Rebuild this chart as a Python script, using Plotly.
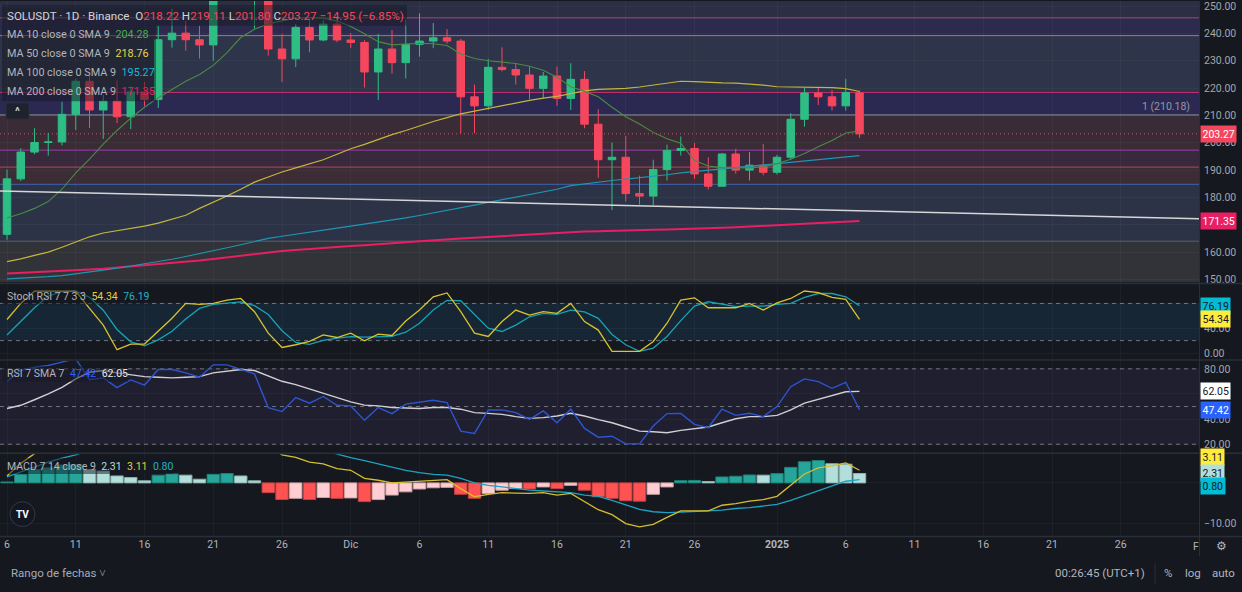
import plotly.graph_objects as go
import pandas as pd

# ---------------- data ----------------
dates = pd.date_range("2024-11-06", periods=63, freq="D")

o = [166.5, 186.8, 196.6, 200.1, 200.3, 210.4, 222.5, 212.0, 215.2, 209.5,
     218.6, 215.8, 237.7, 240.1, 237.7, 235.8, 256.0, 257.0, 255.0, 256.5,
     234.3, 230.7, 242.2, 237.6, 243.4, 237.6, 236.7, 225.9, 234.3, 229.3,
     236.0, 237.2, 238.4, 237.2, 216.8, 213.5, 227.6, 226.8, 224.8, 219.9,
     224.4, 216.2, 223.2, 206.8, 193.8, 194.7, 181.4, 180.5, 190.2, 197.2,
     197.9, 188.6, 184.1, 195.9, 190.0, 191.8, 189.2, 194.7, 208.6, 218.2,
     216.8, 213.5, 218.22]
h = [190.2, 198.0, 205.3, 203.6, 215.0, 223.5, 224.5, 217.5, 222.8, 220.5,
     222.3, 242.8, 249.0, 244.6, 242.8, 260.0, 264.0, 264.6, 259.5, 261.0,
     239.8, 243.5, 245.2, 244.8, 245.8, 240.1, 237.5, 239.8, 241.2, 245.0,
     247.4, 243.8, 241.6, 238.0, 221.3, 230.7, 234.9, 228.9, 227.9, 225.9,
     227.9, 229.1, 226.2, 212.3, 200.1, 202.5, 188.0, 193.8, 199.3, 202.3,
     199.9, 194.7, 196.3, 197.8, 196.6, 199.6, 195.6, 210.8, 220.2, 220.1,
     219.2, 223.4, 219.11]
l = [164.5, 186.0, 195.8, 195.3, 199.0, 204.7, 205.4, 201.4, 207.2, 205.0,
     213.4, 212.7, 234.8, 233.7, 230.8, 230.0, 253.0, 253.5, 241.7, 231.9,
     222.2, 227.7, 233.1, 237.1, 236.8, 234.6, 220.2, 215.6, 225.3, 223.5,
     231.5, 234.6, 236.2, 203.5, 203.5, 212.0, 226.1, 221.3, 215.9, 216.2,
     213.5, 212.0, 205.3, 187.2, 175.4, 178.5, 177.4, 177.1, 186.2, 195.3,
     186.8, 182.9, 184.0, 188.7, 186.2, 188.1, 188.4, 193.8, 205.9, 213.8,
     211.8, 211.8, 201.80]
c = [186.8, 196.6, 200.1, 200.3, 210.4, 222.5, 212.0, 215.2, 209.5, 218.6,
     215.8, 237.7, 240.1, 237.7, 235.8, 256.0, 257.0, 255.0, 256.5, 234.3,
     230.7, 242.2, 237.6, 243.4, 237.6, 236.7, 225.9, 234.3, 229.3, 236.0,
     237.2, 238.4, 237.2, 216.8, 213.5, 227.6, 226.8, 224.8, 219.9, 224.4,
     216.2, 223.2, 206.8, 193.8, 194.7, 181.4, 180.5, 190.2, 197.2, 197.9,
     188.6, 184.1, 195.9, 190.0, 191.8, 189.2, 194.7, 208.6, 218.2, 216.8,
     213.5, 218.4, 203.27]

ma10 = [172.5, 174, 176, 178.5, 183, 189, 194, 199.5, 204.5, 209,
        213, 216.5, 219.5, 222.5, 225, 228.3, 233, 238.5, 241.5, 243.5,
        244.6, 245.6, 245.8, 245.5, 244.6, 242.5, 239.9, 237, 235.8, 236,
        236.4, 236.2, 235.6, 232.5, 230.8, 230, 229.6, 229, 228, 226.5,
        224, 220.5, 218.8, 216.8, 213, 209.5, 206.9, 203.8, 201.5, 199.8,
        193.5, 191.5, 190.9, 190.8, 190.8, 191.2, 192.3, 194, 196.1, 198.5,
        200.8, 203.6, 204.28]
ma50 = [156.5, 157.5, 158.8, 160, 161.8, 163.6, 165.6, 167, 167.8, 168.6,
        169.5, 170.6, 172, 173.5, 176, 178.2, 180.5, 183, 185.6, 187.5,
        189.3, 190.8, 192.2, 193.8, 195.8, 197.8, 199.4, 201.2, 203, 204.5,
        206.2, 207.8, 209.2, 210.6, 211.6, 212.6, 213.5, 214.6, 215.5, 216.3,
        217, 218, 219, 219.5, 219.7, 219.9, 220.4, 221.1, 221.9, 222.5,
        222.4, 222.1, 221.9, 221.8, 221.5, 221.1, 220.5, 220.4, 220.3, 220.2,
        220.2, 219.8, 218.76]
ma100 = [150.2, 150.4, 150.7, 151, 151.4, 152, 152.7, 153.4, 154.1, 154.9,
         155.7, 156.5, 157.4, 158.4, 159.4, 160.5, 161.6, 162.7, 163.9, 165,
         165.8, 166.6, 167.4, 168.1, 168.8, 169.5, 170.2, 171, 171.6, 172.5,
         173.4, 174.3, 175.2, 176.1, 177.2, 178.2, 179.2, 180.2, 181.2, 182.2,
         183, 184.3, 185, 185.7, 186.2, 186.7, 187.2, 187.7, 188.3, 189,
         189.5, 189.9, 190.3, 190.8, 191.3, 191.8, 192.3, 192.9, 193.5, 194,
         194.5, 194.9, 195.27]
ma200 = [152.2, 152.4, 152.6, 152.8, 153.1, 153.3, 153.6, 153.9, 154.3, 154.7,
         155.1, 155.5, 155.9, 156.4, 156.9, 157.5, 158.1, 158.7, 159.3, 159.9,
         160.4, 160.8, 161.2, 161.6, 161.9, 162.2, 162.5, 162.8, 163.2, 163.6,
         164, 164.4, 164.7, 165, 165.3, 165.6, 165.9, 166.2, 166.5, 166.8,
         167.1, 167.3, 167.5, 167.6, 167.8, 167.9, 168, 168.2, 168.3, 168.4,
         168.6, 168.7, 168.9, 169.1, 169.3, 169.5, 169.8, 170.1, 170.4, 170.7,
         171, 171.2, 171.35]

stoch_k = [54, 80, 100, 100, 100, 100, 72, 45, 5.3, 14.4,
           14.4, 35, 56, 80, 78.4, 80, 85.3, 88, 66.7, 32,
           9, 13.3, 18.7, 29.3, 25, 32, 19.7, 30.4, 28.3, 51.7,
           69.3, 90.7, 97, 66.7, 32, 26.7, 50.7, 69.3, 61.3, 66.7,
           64, 80, 50.7, 37, 2.7, 2.7, 2.7, 18.7, 48, 85.3,
           89, 73, 73, 73, 80, 69.3, 81, 88, 100, 97.6,
           89.6, 86.4, 54.34]
stoch_d = [29, 51, 73, 92, 99, 100, 90, 69, 38, 18,
           11.7, 21.3, 35, 55, 72, 78.5, 81, 82.5, 76.5, 62,
           36, 17, 14, 20.5, 24, 26.5, 25.6, 26.5, 26.7, 33.5,
           48, 69.3, 85, 84.3, 61.3, 40, 34.7, 45, 58.5, 64,
           62.4, 69.3, 66.5, 56, 30, 13.3, 2.7, 8, 26.7, 52.3,
           75.7, 82.7, 79, 74.7, 75.7, 75.7, 78.4, 80, 89.6, 96,
           96, 90.7, 76.19]

rsi = [70, 78.7, 81.3, 82.7, 85.4, 88, 71.4, 72.8, 65, 71.2,
       67.1, 79.5, 79.5, 76.8, 73.3, 83.2, 83.2, 79.5, 76, 49.2,
       46, 57.2, 52.7, 58, 51, 50.5, 39, 49.2, 44.4, 51.9,
       53.2, 55, 53.2, 30.4, 28.6, 47.3, 47.3, 45.2, 39.8, 46.5,
       37.1, 47.9, 32.6, 25.6, 26.4, 20.3, 20.3, 34.5, 44.4, 44.6,
       35.8, 33.1, 47.9, 43, 44.6, 42, 50, 65.8, 72, 69.8,
       64.5, 69.3, 47.42]
rsi_sma = [48.4, 51, 55.4, 60, 65.3, 72, 77.3, 78.7, 76.8, 75.2,
           73.8, 73.3, 72.8, 73.3, 73.8, 76.8, 77.9, 79.5, 78.7, 74.6,
           70.1, 67.4, 63.9, 60.4, 56.7, 53.7, 51.1, 50.5, 49.2, 48.7,
           48.4, 49.2, 49.2, 47.9, 45.2, 44.6, 43.8, 42, 40.6, 41.2,
           42.5, 44.6, 42.5, 39.6, 37.1, 33.7, 30.4, 29.9, 29.1, 31,
           32.3, 33.7, 37.1, 40.3, 42, 42, 43, 47.3, 52.7, 55.9,
           58.6, 61.8, 62.05]

macd_hist = [0.24, 2.1, 3.3, 3.7, 4.4, 4.5, 3.3, 2.9, 1.7, 1.3,
             0.5, 1.9, 2.2, 1.9, 0.9, 2.1, 2.3, 1.7, 0.5, -2.4,
             -4.1, -3.8, -4.1, -3.6, -3.8, -3.7, -4.6, -4.1, -3.0, -2.2,
             -1.5, -1.2, -1.1, -2.8, -3.8, -2.6, -1.8, -1.4, -1.5, -1.0,
             -1.4, -0.6, -1.8, -3.4, -3.8, -4.4, -4.5, -2.8, -1.0, 0.55,
             0.6, 0.33, 1.46, 1.63, 1.95, 1.9, 2.28, 3.82, 5.2, 5.5,
             4.7, 4.6, 2.31]
macd_line = [1.7, 4.8, 7.2, 8.8, 10.5, 11.4, 11.3, 11.6, 11.0, 11.0,
             10.3, 12.1, 12.9, 13.1, 12.3, 13.9, 14.5, 14.2, 13.1, 9.6,
             6.9, 6.3, 5.1, 4.7, 3.5, 3.1, 1.1, 0.65, 0.0, 0.24,
             0.5, 0.65, 0.8, -1.4, -3.4, -2.8, -2.4, -2.5, -2.6, -2.4,
             -3.0, -2.6, -4.6, -6.6, -7.8, -10.0, -10.8, -10.2, -8.5, -6.9,
             -6.9, -6.9, -5.5, -5.1, -4.5, -4.1, -3.3, -0.6, 2.2, 3.7,
             4.2, 4.9, 3.11]
macd_signal = [1.5, 2.7, 3.9, 5.1, 6.1, 6.9, 8.0, 8.7, 9.3, 9.7,
               9.8, 10.2, 10.7, 11.2, 11.4, 11.8, 12.2, 12.5, 12.6, 12.0,
               11.0, 10.2, 9.2, 8.3, 7.1, 6.2, 5.5, 4.7, 3.9, 3.1,
               2.5, 2.1, 1.9, 1.1, 0.0, -0.6, -1.0, -1.4, -1.8, -2.0,
               -2.2, -2.4, -3.0, -3.3, -4.3, -5.4, -6.5, -7.1, -7.3, -7.2,
               -7.1, -6.9, -6.7, -6.3, -6.1, -5.7, -5.3, -4.3, -3.1, -1.9,
               -0.65, 0.4, 0.80]

fib_levels = [245.7, 239.2, 218.4, 210.18, 197.3, 191.1, 184.8, 164.0]
trend_dates = ["2024-11-05 11:47", "2025-01-31 16:33"]
trend_vals = [182.4, 172.2]

price_ticks = [150, 160, 170, 180, 190, 200, 210, 220, 230, 240, 250]
price_tick_text = ["150.00", "160.00", "", "180.00", "190.00", "200.00", "210.00",
                   "220.00", "230.00", "240.00", "250.00"]
stoch_ticks = [0, 40, 80]
stoch_tick_text = ["0.00", "40.00", ""]
rsi_ticks = [20, 40, 60, 80]
rsi_tick_text = ["20.00", "40.00", "", "80.00"]
macd_ticks = [-10, 0]
macd_tick_text = ["−10.00", ""]
x_tick_dates = ["2024-11-06", "2024-11-11", "2024-11-16", "2024-11-21", "2024-11-26",
                "2024-12-01", "2024-12-06", "2024-12-11", "2024-12-16", "2024-12-21",
                "2024-12-26", "2025-01-01", "2025-01-06", "2025-01-11", "2025-01-16",
                "2025-01-21", "2025-01-26"]
x_tick_text = ["6", "11", "16", "21", "26", "Dic", "6", "11", "16", "21", "26",
               "<b>2025</b>", "6", "11", "16", "21", "26"]

# ---------------- styling / geometry ----------------
W, H = 1242, 592
XR = 1199
BG = "#15181f"
FONT = "Roboto"
UP, DOWN = "#2ebd85", "#f6465d"
fib_line_colors = ["#a64a6c", "#a3805c", "#c2306f", "#8c8f98", "#9c3faa", "#b04a55", "#3f63b0", "#5d6068"]
band_colors = ["#2a2f45", "#2c2b4e", "#2e3449", "#2b2952", "#3a2c37", "#38293d", "#3b2c36", "#2c3347", "#313338"]
P_RANGE = [148.85, 251.86]
S_RANGE = [-9.6, 110.4]
R_RANGE = [13.7, 86.3]
M_RANGE = [-13.17, 7.07]
X_RANGE = ["2024-11-05 11:47", "2025-01-31 16:33"]


def fx(px):
    return px / W


def fy(py):
    return 1 - py / H


fig = go.Figure()

fig.add_trace(go.Candlestick(
    x=dates, open=o, high=h, low=l, close=c, xaxis="x", yaxis="y",
    increasing=dict(line=dict(color=UP, width=1), fillcolor=UP),
    decreasing=dict(line=dict(color=DOWN, width=1), fillcolor=DOWN),
    whiskerwidth=0, showlegend=False, hoverinfo="skip"))

for vals, col, wd in [(ma200, "#e91e63", 2.0), (ma100, "#1e96b4", 1.2),
                      (ma50, "#c4b63c", 1.2), (ma10, "#4b8a45", 1.1)]:
    fig.add_trace(go.Scatter(x=dates, y=vals, mode="lines", line=dict(color=col, width=wd),
                             xaxis="x", yaxis="y", showlegend=False, hoverinfo="skip"))

fig.add_trace(go.Scatter(x=pd.to_datetime(trend_dates), y=trend_vals, mode="lines",
                         line=dict(color="#d6d6d6", width=1.5), xaxis="x", yaxis="y",
                         showlegend=False, hoverinfo="skip"))

fig.add_trace(go.Scatter(x=dates, y=stoch_d, mode="lines", line=dict(color="#17a2b5", width=1.3),
                         xaxis="x2", yaxis="y2", showlegend=False, hoverinfo="skip"))
fig.add_trace(go.Scatter(x=dates, y=stoch_k, mode="lines", line=dict(color="#d9c22e", width=1.3),
                         xaxis="x2", yaxis="y2", showlegend=False, hoverinfo="skip"))

fig.add_trace(go.Scatter(x=dates, y=rsi_sma, mode="lines", line=dict(color="#cfcfd4", width=1.4),
                         xaxis="x3", yaxis="y3", showlegend=False, hoverinfo="skip"))
fig.add_trace(go.Scatter(x=dates, y=rsi, mode="lines", line=dict(color="#2d55d2", width=1.4),
                         xaxis="x3", yaxis="y3", showlegend=False, hoverinfo="skip"))

hist_colors, hist_edges = [], []
for i, v in enumerate(macd_hist):
    prev = macd_hist[i - 1] if i > 0 else 0
    if v >= 0:
        col, edge = ("#26a69a", "#1d7f75") if v >= prev else ("#b2dfdb", "#8fb3b0")
    else:
        col, edge = ("#ffcdd2", "#c9a3a7") if v > prev else ("#ff5252", "#c44242")
    hist_colors.append(col)
    hist_edges.append(edge)
fig.add_trace(go.Bar(x=dates, y=macd_hist, marker=dict(color=hist_colors, line=dict(color=hist_edges, width=1)),
                     width=0.9 * 86400000, xaxis="x4", yaxis="y4", showlegend=False, hoverinfo="skip"))
fig.add_trace(go.Scatter(x=dates, y=macd_signal, mode="lines", line=dict(color="#1ba3c2", width=1.3),
                         xaxis="x4", yaxis="y4", showlegend=False, hoverinfo="skip"))
fig.add_trace(go.Scatter(x=dates, y=macd_line, mode="lines", line=dict(color="#d4bd2e", width=1.3),
                         xaxis="x4", yaxis="y4", showlegend=False, hoverinfo="skip"))

shapes = []
edges = [P_RANGE[1]] + fib_levels + [P_RANGE[0]]
for i, col in enumerate(band_colors):
    shapes.append(dict(type="rect", xref="paper", x0=0, x1=fx(XR), yref="y", y0=edges[i + 1], y1=edges[i],
                       fillcolor=col, line=dict(width=0), layer="below"))
for lv, col in zip(fib_levels, fib_line_colors):
    shapes.append(dict(type="line", xref="paper", x0=0, x1=fx(XR), yref="y", y0=lv, y1=lv,
                       line=dict(color=col, width=1), layer="between"))
shapes.append(dict(type="line", xref="paper", x0=0, x1=fx(XR), yref="y", y0=c[-1], y1=c[-1],
                   line=dict(color=DOWN, width=1, dash="1px,3px"), layer="between"))
shapes.append(dict(type="rect", xref="paper", x0=0, x1=fx(XR), yref="y2", y0=20, y1=80,
                   fillcolor="#172634", line=dict(width=0), layer="below"))
for lv in [80, 20]:
    shapes.append(dict(type="line", xref="paper", x0=0, x1=fx(XR), yref="y2", y0=lv, y1=lv,
                       line=dict(color="#6f727c", width=1, dash="4px,4px"), layer="between"))
shapes.append(dict(type="rect", xref="paper", x0=0, x1=fx(XR), yref="y3", y0=20, y1=80,
                   fillcolor="#201f30", line=dict(width=0), layer="below"))
for lv in [80, 50, 20]:
    shapes.append(dict(type="line", xref="paper", x0=0, x1=fx(XR), yref="y3", y0=lv, y1=lv,
                       line=dict(color="#6f727c", width=1, dash="4px,4px"), layer="between"))
for py in [285, 362, 456, 540]:
    shapes.append(dict(type="line", xref="paper", x0=0, x1=1, yref="paper", y0=fy(py), y1=fy(py),
                       line=dict(color="#2a2e39", width=1.5), layer="above"))
shapes.append(dict(type="line", xref="paper", x0=fx(XR + 0.5), x1=fx(XR + 0.5), yref="paper", y0=fy(560), y1=1,
                   line=dict(color="#2a2e39", width=1), layer="above"))
shapes.append(dict(type="line", xref="paper", x0=fx(1155), x1=fx(1155), yref="paper", y0=fy(588), y1=fy(567),
                   line=dict(color="#2a2e39", width=1), layer="above"))
for (x0, y0, x1, y1) in [(2, 4, 407, 25), (2, 25, 156, 101), (2, 290, 150, 306), (2, 368, 128, 384), (2, 461, 173, 477)]:
    shapes.append(dict(type="rect", xref="paper", yref="paper", x0=fx(x0), x1=fx(x1), y0=fy(y1), y1=fy(y0),
                       fillcolor="rgba(21,24,33,0.5)", line=dict(width=0), layer="above"))
shapes.append(dict(type="rect", xref="paper", yref="paper", x0=fx(6), x1=fx(29), y0=fy(119), y1=fy(103),
                   fillcolor="#1e222d", line=dict(color="#2a2e39", width=1), layer="above"))
shapes.append(dict(type="circle", xref="paper", yref="paper", x0=fx(10), x1=fx(35), y0=fy(530), y1=fy(505),
                   fillcolor="#131722", line=dict(color="#363a45", width=1), layer="above"))

ann = []
GRAY = "#b2b5be"


def txt(px, py, s, size=11, color=GRAY, anchor="left"):
    ann.append(dict(xref="paper", yref="paper", x=fx(px), y=fy(py), text=s, showarrow=False,
                    xanchor=anchor, yanchor="middle", font=dict(family=FONT, size=size, color=color)))


def span(s, col):
    return f'<span style="color:{col}">{s}</span>'


red = DOWN
title = (span("SOLUSDT · 1D · Binance", "#d1d4dc") + "\u2002" +
         span("O", "#d1d4dc") + span("218.22", red) + " " + span("H", "#d1d4dc") + span("219.11", red) + " " +
         span("L", "#d1d4dc") + span("201.80", red) + " " + span("C", "#d1d4dc") + span("203.27", red) + " " +
         span("−14.95 (−6.85%)", red))
txt(5, 15, title, size=11.6)
for py, lab, val, col in [(34, "MA 10 close 0 SMA 9", ma10[-1], "#4caf50"),
                          (53, "MA 50 close 0 SMA 9", ma50[-1], "#e6d84a"),
                          (72, "MA 100 close 0 SMA 9", ma100[-1], "#22b5d5"),
                          (91, "MA 200 close 0 SMA 9", ma200[-1], "#e91e63")]:
    txt(5, py, span(lab, GRAY) + "\u2002" + span(f"{val:.2f}", col), size=10.8)
txt(5, 298, span("Stoch RSI 7 7 3 3", GRAY) + "\u2002" + span(f"{stoch_k[-1]:.2f}", "#e6cf34") + "\u2002" +
    span(f"{stoch_d[-1]:.2f}", "#1fb3c6"), size=10.5)
txt(5, 376, span("RSI 7 SMA 7", GRAY) + "\u2002" + span(f"{rsi[-1]:.2f}", "#2f62ff") + "\u2002" +
    span(f"{rsi_sma[-1]:.2f}", "#e8e8ea"), size=10.5)
txt(5, 469, span("MACD 7 14 close 9", GRAY) + "\u2002" + span(f"{macd_hist[-1]:.2f}", "#b2dfdb") + "\u2002" +
    span(f"{macd_line[-1]:.2f}", "#e6cf34") + "\u2002" + span(f"{macd_signal[-1]:.2f}", "#1fb3c6"), size=10.5)
txt(17.5, 111, "<b>^</b>", size=11, color="#d1d4dc", anchor="center")
txt(22.5, 518, "<b>TV</b>", size=10, color="#ffffff", anchor="center")
txt(1192, 106, f"1 ({fib_levels[3]:.2f})", size=10.5, color="#9598a1", anchor="right")
txt(1196, 550, "F", size=10.5, color=GRAY, anchor="center")
txt(1221, 550, "⚙", size=12, color=GRAY, anchor="center")
txt(9, 577, "Rango de fechas ˅", size=11.5, color="#a6abb8")
txt(1147, 577, "00:26:45 (UTC+1)", size=11.5, color=GRAY, anchor="right")
txt(1168, 577, "%", size=11.5, color=GRAY, anchor="center")
txt(1193, 577, "log", size=11.5, color=GRAY, anchor="center")
txt(1223, 577, "auto", size=11.5, color=GRAY, anchor="center")


def vlabel(yref, val, bg, fg, shift=0):
    ann.append(dict(xref="paper", x=fx(1200), xanchor="left", yref=yref, y=val, yanchor="middle", yshift=shift,
                    text=f"{val:.2f}", showarrow=False, bgcolor=bg, borderpad=1.5,
                    font=dict(family=FONT, size=10.5, color=fg)))


vlabel("y", c[-1], "#f6465d", "#ffffff")
vlabel("y", ma200[-1], "#e91e63", "#ffffff")
vlabel("y2", stoch_d[-1], "#00bcd4", "#131722")
vlabel("y2", stoch_k[-1], "#ffeb3b", "#131722")
vlabel("y3", rsi_sma[-1], "#ffffff", "#131722")
vlabel("y3", rsi[-1], "#2962ff", "#ffffff")
vlabel("y4", macd_line[-1], "#ffeb3b", "#131722", shift=13)
vlabel("y4", macd_hist[-1], "#b2dfdb", "#131722")
vlabel("y4", macd_signal[-1], "#00bcd4", "#131722", shift=-6)

grid = "rgba(255,255,255,0.035)"
xcommon = dict(type="date", range=X_RANGE, domain=[0, fx(XR)], showgrid=True, gridcolor=grid,
               tickvals=x_tick_dates, zeroline=False, showline=False, ticks="", fixedrange=True)
ycommon = dict(side="right", showgrid=True, gridcolor=grid, zeroline=False, showline=False, ticks="",
               tickfont=dict(family=FONT, size=10.5, color="#a3a6af"), ticklabelstandoff=4,
               ticklabeloverflow="allow")

fig.update_layout(
    width=W, height=H, margin=dict(l=0, r=0, t=0, b=0), paper_bgcolor=BG, plot_bgcolor=BG,
    showlegend=False, bargap=0.1, boxgap=0.22, shapes=shapes, annotations=ann,
    xaxis=dict(**xcommon, anchor="y", showticklabels=False, rangeslider=dict(visible=False)),
    xaxis2=dict(**xcommon, anchor="y2", matches="x", showticklabels=False),
    xaxis3=dict(**xcommon, anchor="y3", matches="x", showticklabels=False),
    xaxis4=dict(**xcommon, anchor="y4", matches="x", showticklabels=True, ticktext=x_tick_text,
                tickfont=dict(family=FONT, size=10.5, color=GRAY)),
    yaxis=dict(**ycommon, domain=[fy(284), 1], range=P_RANGE, tickvals=price_ticks, ticktext=price_tick_text,
               anchor="x"),
    yaxis2=dict(**ycommon, domain=[fy(361), fy(286)], range=S_RANGE, tickvals=stoch_ticks,
                ticktext=stoch_tick_text, anchor="x2"),
    yaxis3=dict(**ycommon, domain=[fy(455), fy(363)], range=R_RANGE, tickvals=rsi_ticks,
                ticktext=rsi_tick_text, anchor="x3"),
    yaxis4=dict(**ycommon, domain=[fy(540), fy(457)], range=M_RANGE, tickvals=macd_ticks,
                ticktext=macd_tick_text, anchor="x4"),
)

fig.write_html("out.html", config={"displayModeBar": False},
               post_script="document.body.style.margin='0';document.body.style.overflow='hidden';")
